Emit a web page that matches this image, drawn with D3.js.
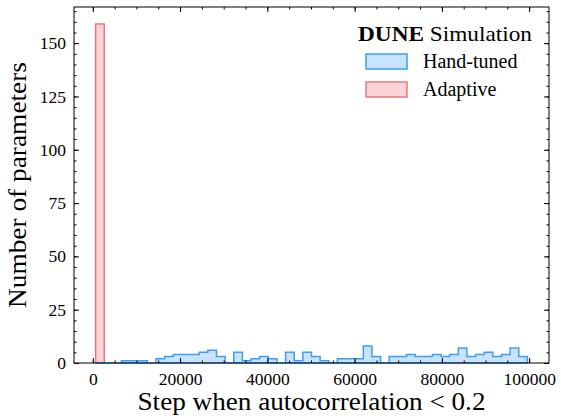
<!DOCTYPE html>
<html>
<head>
<meta charset="utf-8">
<script src="https://cdn.jsdelivr.net/npm/d3@7"></script>
<style>
body{margin:0;background:#fff;}
svg text{font-family:"Liberation Serif","DejaVu Serif",serif;}
</style>
</head>
<body>
<svg id="chart" width="561" height="416"></svg>
<script>
// both runs share the same 50 bins
var BIN_START = 640, BIN_END = 99600, N_BINS = 50;

// counts per bin
var handTuned = [0,0,0,1,1,1,0,2,3,4, 4,4,5,6,3,0,5,1,2,3,
                 2,0,5,1,5,3,1,0,2,2, 2,8,3,0,3,3,4,3,3,4,
                 3,4,7,3,4,5,3,4,7,3];
var adaptive  = [159,0,0,0,0,0,0,0,0,0, 0,0,0,0,0,0,0,0,0,0,
                 0,0,0,0,0,0,0,0,0,0, 0,0,0,0,0,0,0,0,0,0,
                 0,0,0,0,0,0,0,0,0,0];

var xTicks = [0,20000,40000,60000,80000,100000];
var yTicks = [0,25,50,75,100,125,150];
var legendLabels = ["Hand-tuned","Adaptive"];

var W = 561, H = 416;
var margin = {left:74, right:12, top:7, bottom:53};

var svg = d3.select("#chart");

// bin edges
var binW = (BIN_END - BIN_START) / N_BINS;
var edges = d3.range(N_BINS + 1).map(function(i){ return BIN_START + i * binW; });

// matplotlib-like 5% x margins, y from 0 to 1.05*max
var pad = 0.05 * (BIN_END - BIN_START);
var x = d3.scaleLinear()
    .domain([BIN_START - pad, BIN_END + pad])
    .range([margin.left, W - margin.right]);
var yMax = d3.max(handTuned.concat(adaptive)) * 1.05;
var y = d3.scaleLinear()
    .domain([0, yMax])
    .range([H - margin.bottom, margin.top]);

var blueEdge = "#3d9df5", blueFill = "rgba(30,144,255,0.25)";
var redEdge = "#f2737c", redFill = "rgba(240,110,120,0.3)";

// step outline of a histogram
function stepPoints(counts){
  var pts = [[edges[0], 0]];
  counts.forEach(function(c, i){
    pts.push([edges[i], c]);
    pts.push([edges[i+1], c]);
  });
  pts.push([edges[N_BINS], 0]);
  return pts;
}
var line = d3.line()
    .x(function(d){ return x(d[0]); })
    .y(function(d){ return y(d[1]); });

// adaptive: only non-empty bars
svg.append("g").selectAll("rect")
    .data(adaptive.map(function(c, i){ return {c:c, i:i}; }).filter(function(d){ return d.c > 0; }))
    .enter().append("rect")
    .attr("x", function(d){ return x(edges[d.i]); })
    .attr("width", function(d){ return x(edges[d.i+1]) - x(edges[d.i]); })
    .attr("y", function(d){ return y(d.c); })
    .attr("height", function(d){ return y(0) - y(d.c); })
    .attr("fill", redFill)
    .attr("stroke", redEdge)
    .attr("stroke-width", 1.5);

// hand-tuned stepfilled
svg.append("path")
    .attr("d", line(stepPoints(handTuned)) + "Z")
    .attr("fill", blueFill)
    .attr("stroke", blueEdge)
    .attr("stroke-width", 1.5)
    .attr("stroke-linejoin", "miter");

// axes, ticks inward on all four sides
var MAJ = 5, MIN = 2.5, FS = 17.5;
var xMinor = d3.range(0, BIN_END + pad, 5000);
var yMinor = d3.range(0, yMax, 5);

function styleAxis(g){
  g.attr("font-family", null);
  g.select(".domain").remove();
  g.selectAll("line").attr("stroke", "#000").attr("stroke-width", 1);
  g.selectAll("text").attr("font-size", FS).attr("fill", "#000");
}

var bottom = svg.append("g").attr("transform", "translate(0," + y(0) + ")")
    .call(d3.axisBottom(x).tickValues(xTicks).tickFormat(d3.format("d")).tickSize(-MAJ).tickPadding(10));
styleAxis(bottom);
var bottomMinor = svg.append("g").attr("transform", "translate(0," + y(0) + ")")
    .call(d3.axisBottom(x).tickValues(xMinor).tickFormat("").tickSize(-MIN));
styleAxis(bottomMinor);
var top_ = svg.append("g").attr("transform", "translate(0," + margin.top + ")")
    .call(d3.axisTop(x).tickValues(xTicks).tickFormat("").tickSize(-MAJ));
styleAxis(top_);
var topMinor = svg.append("g").attr("transform", "translate(0," + margin.top + ")")
    .call(d3.axisTop(x).tickValues(xMinor).tickFormat("").tickSize(-MIN));
styleAxis(topMinor);

var left = svg.append("g").attr("transform", "translate(" + margin.left + ",0)")
    .call(d3.axisLeft(y).tickValues(yTicks).tickSize(-MAJ).tickPadding(8));
styleAxis(left);
var leftMinor = svg.append("g").attr("transform", "translate(" + margin.left + ",0)")
    .call(d3.axisLeft(y).tickValues(yMinor).tickFormat("").tickSize(-MIN));
styleAxis(leftMinor);
var right = svg.append("g").attr("transform", "translate(" + (W - margin.right) + ",0)")
    .call(d3.axisRight(y).tickValues(yTicks).tickFormat("").tickSize(-MAJ));
styleAxis(right);
var rightMinor = svg.append("g").attr("transform", "translate(" + (W - margin.right) + ",0)")
    .call(d3.axisRight(y).tickValues(yMinor).tickFormat("").tickSize(-MIN));
styleAxis(rightMinor);

// frame
svg.append("rect")
    .attr("x", margin.left).attr("y", margin.top)
    .attr("width", W - margin.left - margin.right)
    .attr("height", H - margin.top - margin.bottom)
    .attr("fill", "none").attr("stroke", "#000").attr("stroke-width", 1);

// axis labels
svg.append("text")
    .attr("x", (margin.left + W - margin.right) / 2)
    .attr("y", 410)
    .attr("text-anchor", "middle")
    .attr("font-size", 25)
    .attr("textLength", 348)
    .attr("lengthAdjust", "spacingAndGlyphs")
    .text("Step when autocorrelation < 0.2");
svg.append("text")
    .attr("transform", "translate(26," + ((margin.top + H - margin.bottom) / 2) + ") rotate(-90)")
    .attr("text-anchor", "middle")
    .attr("font-size", 25)
    .attr("textLength", 246)
    .attr("lengthAdjust", "spacingAndGlyphs")
    .text("Number of parameters");

// legend
var lg = svg.append("g");
var title = lg.append("text").attr("x", 445).attr("y", 41).attr("text-anchor", "middle").attr("font-size", 21)
    .attr("textLength", 174).attr("lengthAdjust", "spacingAndGlyphs");
title.append("tspan").attr("font-weight", "bold").text("DUNE");
title.append("tspan").text(" Simulation");

var legendColors = [[blueFill, blueEdge], [redFill, redEdge]];
legendLabels.forEach(function(lab, i){
  var yy = 54 + i * 28;
  lg.append("rect").attr("x", 366).attr("y", yy).attr("width", 41).attr("height", 15)
    .attr("fill", legendColors[i][0]).attr("stroke", legendColors[i][1]).attr("stroke-width", 1.5);
  lg.append("text").attr("x", 423).attr("y", yy + 14).attr("font-size", 20).text(lab);
});
</script>
</body>
</html>
